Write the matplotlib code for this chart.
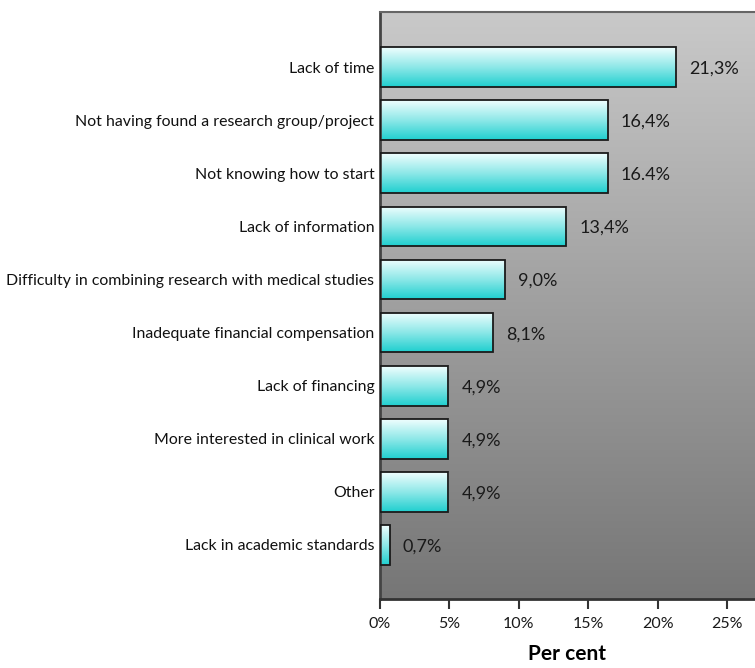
import numpy as np
import matplotlib.pyplot as plt
from matplotlib.colors import LinearSegmentedColormap

categories = [
    'Lack of time',
    'Not having found a research group/project',
    'Not knowing how to start',
    'Lack of information',
    'Difficulty in combining research with medical studies',
    'Inadequate financial compensation',
    'Lack of financing',
    'More interested in clinical work',
    'Other',
    'Lack in academic standards',
]
values = [21.3, 16.4, 16.4, 13.4, 9.0, 8.1, 4.9, 4.9, 4.9, 0.7]
value_labels = ['21,3%', '16,4%', '16.4%', '13,4%', '9,0%', '8,1%',
                '4,9%', '4,9%', '4,9%', '0,7%']
xticks = [0, 5, 10, 15, 20, 25]
xtick_labels = ['0%', '5%', '10%', '15%', '20%', '25%']

plt.rcParams['font.family'] = ['Lato', 'DejaVu Sans']

fig = plt.figure(figsize=(7.55, 6.68), dpi=100)
ax = fig.add_axes([380 / 755, 1 - 599 / 668, 1 - 380 / 755, (599 - 12) / 668])

# background gradient
bg = LinearSegmentedColormap.from_list('bg', ['#c9c9c9', '#767676'])
grad = np.linspace(0, 1, 256).reshape(-1, 1)
ax.imshow(grad, cmap=bg, aspect='auto', extent=[0, 1, 0, 1],
          transform=ax.transAxes, zorder=0, origin='upper')

ypos = np.arange(len(categories))
bars = ax.barh(ypos, values, height=0.75, color='none',
               edgecolor='#1a1a1a', linewidth=1.3, zorder=3)

bar_cmap = LinearSegmentedColormap.from_list('bar', ['#f0fefe', '#8ee8e8', '#1fcfcf'])
for bar in bars:
    x0, y0 = bar.get_x(), bar.get_y()
    w, h = bar.get_width(), bar.get_height()
    im = ax.imshow(grad, cmap=bar_cmap, aspect='auto',
                   extent=[x0, x0 + w, y0 + h, y0], origin='upper', zorder=2)
    im.set_clip_path(bar)

for y, v, lab in zip(ypos, values, value_labels):
    ax.text(v + 0.95, y + 0.03, lab, va='center', ha='left', fontsize=13, color='#1a1a1a', zorder=4)

ax.set_xlim(0, 27)
ax.set_ylim(len(categories) - 1 + 1.02, -1.04)
ax.set_yticks(ypos)
ax.set_yticklabels(categories, fontsize=11.4, color='#111111')
ax.tick_params(axis='y', length=0, pad=4)
ax.set_xticks(xticks)
ax.set_xticklabels(xtick_labels, fontsize=11.5, color='#1a1a1a')
ax.tick_params(axis='x', length=7, width=1.5, color='#333333', pad=6, direction='out')
ax.set_xlabel('Per cent', fontsize=15, fontweight='bold', labelpad=9)

ax.spines['right'].set_visible(False)
ax.spines['left'].set_color('#444444')
ax.spines['left'].set_linewidth(2)
ax.spines['bottom'].set_color('#333333')
ax.spines['bottom'].set_linewidth(2)
ax.spines['top'].set_color('#666666')
ax.spines['top'].set_linewidth(1.5)

fig.savefig('out.png', dpi=100)
